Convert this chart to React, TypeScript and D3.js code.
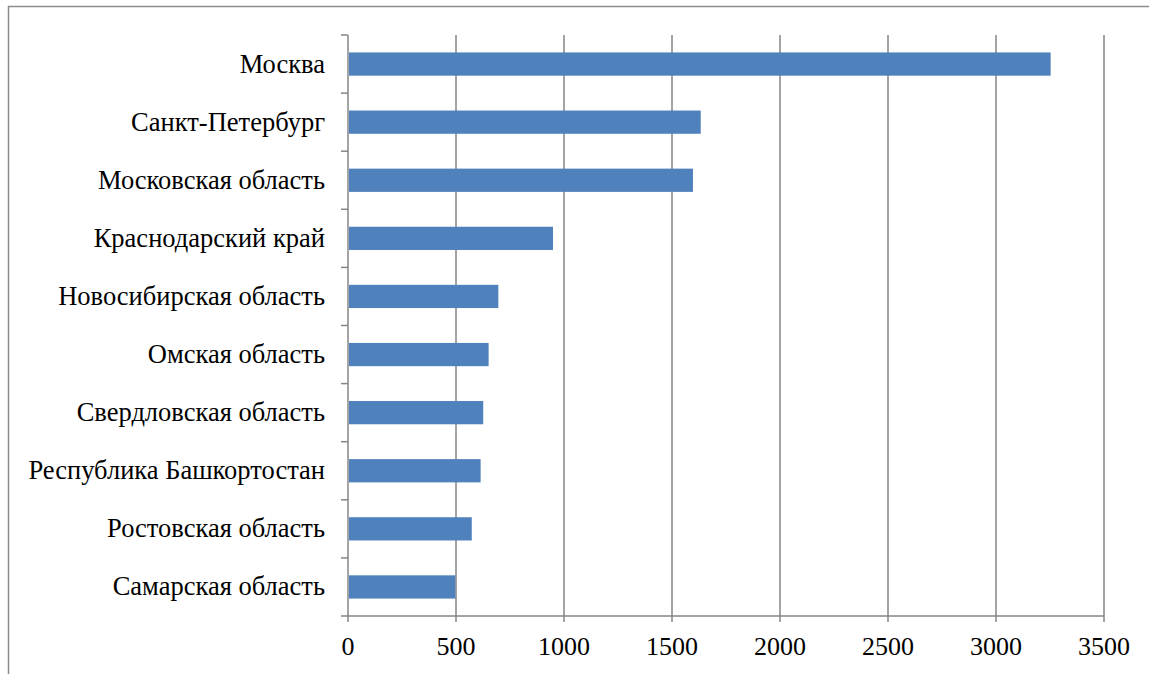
import React from "react";
import * as d3 from "d3";

const categories = [
  "Москва",
  "Санкт-Петербург",
  "Московская область",
  "Краснодарский край",
  "Новосибирская область",
  "Омская область",
  "Свердловская область",
  "Республика Башкортостан",
  "Ростовская область",
  "Самарская область",
];
const values = [3253, 1633, 1597, 949, 696, 651, 626, 614, 573, 497];
const xTicks = [0, 500, 1000, 1500, 2000, 2500, 3000, 3500];

export default function App() {
  const W = 1149, H = 674;
  const left = 348, right = 1104, top = 35, bottom = 616;
  const x = d3.scaleLinear().domain([0, 3500]).range([left, right]);
  const y = d3.scaleBand().domain(categories).range([top, bottom]).paddingInner(0.6).paddingOuter(0.3);
  const band = d3.scaleBand().domain(categories).range([top, bottom]);
  const grid = "#868686";
  const font = "'Liberation Serif', 'Times New Roman', serif";
  return (
    <svg width={W} height={H} style={{ position: "absolute", left: 0, top: 0 }}>
      <rect x={0} y={0} width={W} height={H} fill="#fff" />
      <line x1={8} y1={6.5} x2={W} y2={6.5} stroke="#8c8c8c" strokeWidth={1.5} />
      <line x1={8.5} y1={6} x2={8.5} y2={H} stroke="#8c8c8c" strokeWidth={1.5} />
      {xTicks.filter((t) => t > 0).map((t) => (
        <line key={t} x1={x(t)} x2={x(t)} y1={top} y2={bottom + 6} stroke={grid} strokeWidth={1.5} />
      ))}
      <line x1={x(0)} x2={x(0)} y1={top} y2={bottom + 6} stroke={grid} strokeWidth={1.5} />
      <line x1={left - 7} x2={right} y1={bottom} y2={bottom} stroke={grid} strokeWidth={1.5} />
      {categories.map((c) => (
        <line key={c} x1={left - 7} x2={left} y1={band(c)!} y2={band(c)!} stroke={grid} strokeWidth={1.5} />
      ))}
      {categories.map((c, i) => (
        <rect key={c} x={x(0) + 1} y={y(c)!} width={x(values[i]) - x(0) - 1} height={y.bandwidth()} fill="#4F81BD" />
      ))}
      {categories.map((c) => (
        <text key={c} x={left - 23} y={band(c)! + band.bandwidth() / 2} dy="0.32em" textAnchor="end" fontFamily={font} fontSize={26.5} fill="#000">
          {c}
        </text>
      ))}
      {xTicks.map((t) => (
        <text key={t} x={x(t)} y={655} textAnchor="middle" fontFamily={font} fontSize={26} fill="#000">
          {t}
        </text>
      ))}
    </svg>
  );
}
